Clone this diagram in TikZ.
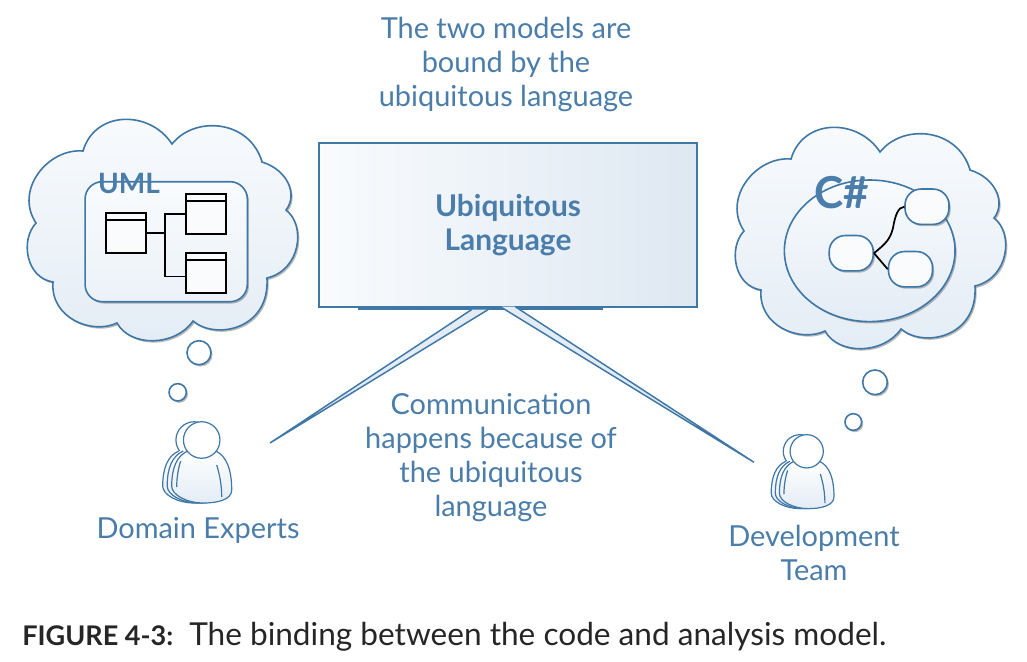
\documentclass[tikz,border=0pt]{standalone}
\usepackage{fontspec}
\setmainfont{Lato}
\usetikzlibrary{shadows,positioning}
\definecolor{linkblue}{HTML}{3F77A6}
\definecolor{labelblue}{HTML}{4A7DAA}
\definecolor{paleblue}{HTML}{E3ECF5}
\definecolor{paperblue}{HTML}{F9FBFD}
\definecolor{edgeblue}{HTML}{DEE8F2}
\tikzset{
  softshadow/.style={drop shadow={shadow xshift=1.2pt,shadow yshift=-1.4pt,opacity=.45,fill=black!60}},
  outline/.style={draw=linkblue,line width=1.2pt},
  bubble/.style={circle,outline,fill=white,inner sep=0pt,softshadow},
  softbox/.style={outline,fill=paperblue,rounded corners=12pt,inner sep=0pt,minimum width=33pt,minimum height=26.5pt,softshadow},
  classbox/.style={draw=black,line width=1.4pt,fill=paperblue,inner sep=0pt,minimum size=30pt},
  wire/.style={draw=black,line width=1.3pt},
  caption/.style={font=\fontsize{21.7}{25.5}\selectfont,text=labelblue,align=center},
  pics/cloud/.style={code={
    \draw[outline,top color=paperblue,bottom color=paleblue,softshadow]
      (172,144) .. controls (150,110) and (95,110) .. (83,151)
      .. controls (48,148) and (14,190) .. (36,223)
      .. controls (20,240) and (26,278) .. (53,282)
      .. controls (50,318) and (92,335) .. (117,323)
      .. controls (130,347) and (175,347) .. (193,321)
      .. controls (215,340) and (270,330) .. (267,278)
      .. controls (301,270) and (306,225) .. (286,210)
      .. controls (298,195) and (288,170) .. (262,162)
      .. controls (250,120) and (195,115) .. cycle;
  }},
  pics/person/.style={code={
    \draw[linkblue,line width=.9pt,fill=white] (-7.5,0) ellipse [x radius=13.7pt,y radius=13.7pt];
    \foreach \dx in {-9,-4.5,0} {
      \draw[linkblue,line width=.9pt,top color=white,bottom color=paleblue]
        (\dx-14,11) .. controls (\dx-25,16) and (\dx-30,28) .. (\dx-30,46)
        .. controls (\dx-30,55) and (\dx-15,63) .. (\dx+2,63)
        .. controls (\dx+15,63) and (\dx+30,60) .. (\dx+30,50)
        .. controls (\dx+30,30) and (\dx+25,16) .. (\dx+14,11);
    }
    \draw[linkblue,line width=.9pt] (-21,21) .. controls (-24,30) and (-25,40) .. (-25,47);
    \draw[linkblue,line width=.9pt] (15,25) .. controls (18,35) and (20,45) .. (20,57);
    \draw[linkblue,line width=.9pt,fill=white] (0,0) ellipse [x radius=13.7pt,y radius=13.7pt];
  }}
}
\begin{document}
\begin{tikzpicture}[x=.75pt,y=-.75pt]
  \useasboundingbox (0,0) rectangle (1027,661);
  % clouds
  \pic at (0,0) {cloud};
  \pic at (708,8) {cloud};
  % uml panel
  \node[outline,fill=paperblue,rounded corners=13pt,inner sep=0pt,minimum width=121.7pt,minimum height=90pt,
        top color=paperblue,bottom color=paleblue!70,softshadow] (panel) at (166.2,241.7) {};
  \node[classbox] (classa) at (125.8,232.8) {};
  \node[classbox] (classb) at (206,213.8) {};
  \node[classbox] (classc) at (206,273) {};
  \foreach \n in {classa,classb,classc}
    \draw[black,line width=1.3pt] ([yshift=-6pt]\n.north west) -- ([yshift=-6pt]\n.north east);
  \draw[wire] (classa.east) -- (165,232.8) |- (classb.west);
  \draw[wire] (165,232.8) |- ([yshift=-2.7pt]classc.west);
  \node[font=\fontsize{21}{24}\bfseries,text=labelblue,inner sep=0pt] (umllabel) at (129,183) {UML};
  % code ellipse
  \draw[outline,top color=paperblue,bottom color=paleblue,softshadow] (869.7,250.8) ellipse [x radius=64pt,y radius=53.1pt];
  \node[softbox] (codea) at (851.2,253.2) {};
  \node[softbox] (codeb) at (927,206.7) {};
  \node[softbox] (codec) at (910.5,269.2) {};
  \draw[wire] (codea.east) .. controls (885,244) and (890,240) .. (893,228) .. controls (895,216) and (898,207) .. (codeb.west);
  \draw[wire] (codea.east) -- (codec.west);
  \node[font=\fontsize{33}{36}\bfseries,text=labelblue,inner sep=0pt] (csharplabel) at (841.5,192.7) {C\#};
  % thought bubbles
  \node[bubble,minimum size=18pt] (bubblea) at (199,352.7) {};
  \node[bubble,minimum size=13pt] (bubbleb) at (177.7,392.3) {};
  \node[bubble,minimum size=18.5pt] (bubblec) at (875,382.3) {};
  \node[bubble,minimum size=12.5pt] (bubbled) at (853.3,422) {};
  % people
  \pic at (201.7,440) {person};
  \pic[scale=.91] at (806.7,451.3) {person};
  % language box
  \fill[linkblue] (358,302) rectangle (603,310);
  \node[outline,left color=paperblue,right color=edgeblue,inner sep=0pt,minimum width=283.5pt,minimum height=123pt,
        font=\fontsize{22.4}{25.5}\bfseries,text=labelblue,align=center] (langbox) at (508,225) {Ubiquitous\\Language};
  % wedges
  \coordinate (tipa) at (270,443);
  \coordinate (tipb) at (754,462.3);
  \draw[linkblue,line width=1.1pt,fill=paleblue] (471.7,309.5) -- (tipa) -- (488.3,309.5);
  \draw[linkblue,line width=1.1pt,fill=paleblue] (500,306.5) -- (tipb) -- (515,306.5);
  % labels
  \node[caption] (toplabel) at (506,64) {The two models are\\bound by the\\ubiquitous language};
  \node[caption] (midlabel) at (491,458) {Communication\\happens because of\\the ubiquitous\\language};
  \node[caption] (domainlabel) at (198,530) {Domain Experts};
  \node[caption] (devlabel) at (814,553) {Development\\Team};
  \node[font=\fontsize{20.3}{25.5}\bfseries,text=black!85,anchor=base west,inner sep=0pt] (figlabel) at (22,645) {FIGURE 4-3:};
  \node[font=\fontsize{23.7}{25.5}\selectfont,text=black!85,anchor=base west,inner sep=0pt] (figtext) at (189,645) {The binding between the code and analysis model.};
\end{tikzpicture}
\end{document}
